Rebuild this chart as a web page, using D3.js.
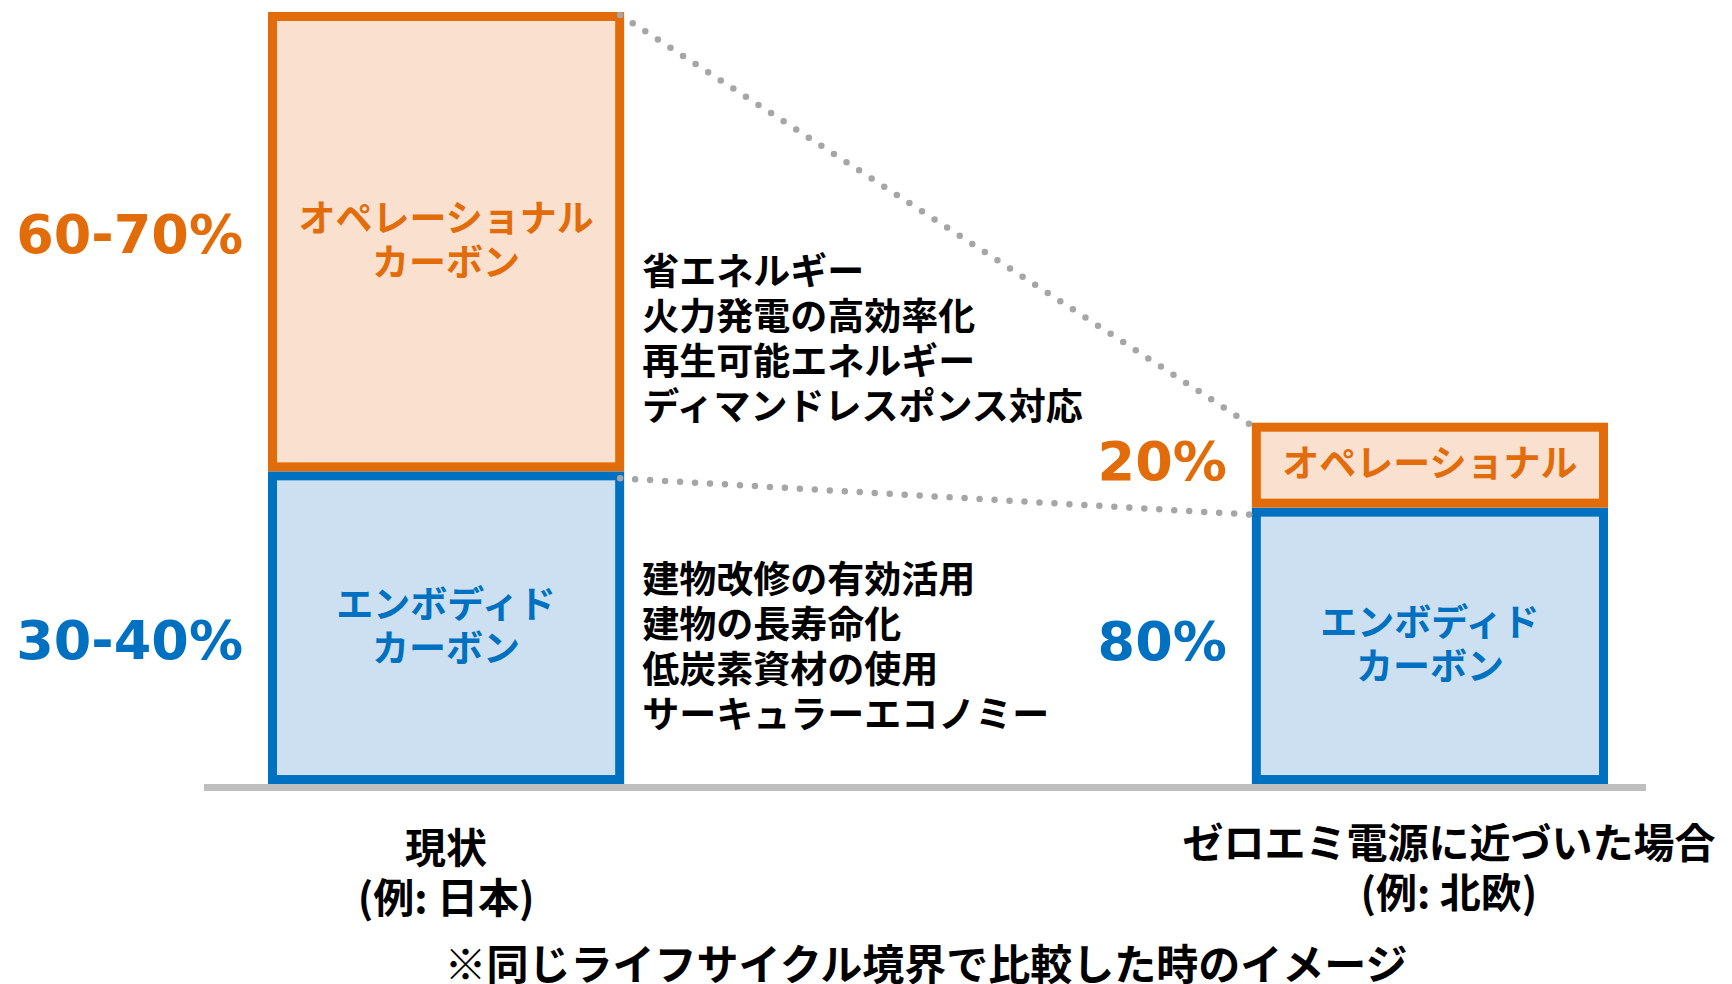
<!DOCTYPE html>
<html>
<head>
<meta charset="utf-8">
<script src="https://cdn.jsdelivr.net/npm/d3@7"></script>
<style>
  body { margin: 0; background: #fff; }
  svg { display: block; }
  text { font-family: "Noto Sans CJK JP", sans-serif; font-weight: 700; }
</style>
</head>
<body>
<svg id="chart"></svg>
<script>
// categories and sub labels
const categories = ["現状", "ゼロエミ電源に近づいた場合"];
const subLabels = ["(例: 日本)", "(例: 北欧)"];

// bar heights (share of the "current" total = 100)
const embodied = [40.5, 35.8];
const operational = [59.5, 11.0];

// labels shown next to / inside the bars
const embodiedPct = ["30-40%", "80%"];
const operationalPct = ["60-70%", "20%"];
const embodiedNames = [["エンボディド", "カーボン"], ["エンボディド", "カーボン"]];
const operationalNames = [["オペレーショナル", "カーボン"], ["オペレーショナル"]];

// measures listed between the bars
const operationalMeasures = ["省エネルギー", "火力発電の高効率化", "再生可能エネルギー", "ディマンドレスポンス対応"];
const embodiedMeasures = ["建物改修の有効活用", "建物の長寿命化", "低炭素資材の使用", "サーキュラーエコノミー"];

const footnote = "※同じライフサイクル境界で比較した時のイメージ";

const width = 1732, height = 984;
const orange = "#E36C0A", orangeFill = "#FAE0CE";
const blue = "#0070C0", blueFill = "#CCE0F2";
const sw = 9; // bar border width

const svg = d3.select("#chart").attr("width", width).attr("height", height);

const x = d3.scaleBand().domain(categories).range([268, 1608]).paddingInner(0.638).paddingOuter(0);
const y = d3.scaleLinear().domain([0, 100]).range([784, 12]);
const bw = x.bandwidth();

// multi-line text as one <text> with tspans, centred on cy
function multiline(g, lines, cx, cy, lh, anchor) {
  const t = g.append("text")
    .attr("text-anchor", anchor)
    .attr("dominant-baseline", "central");
  lines.forEach((s, k) => {
    t.append("tspan")
      .attr("x", cx)
      .attr("y", cy + (k - (lines.length - 1) / 2) * lh)
      .text(s);
  });
  return t;
}

// baseline
svg.append("line")
  .attr("x1", 204).attr("x2", 1646)
  .attr("y1", y(0) + 3.5).attr("y2", y(0) + 3.5)
  .attr("stroke", "#BFBFBF").attr("stroke-width", 7);

// stacked segments
const segs = [];
categories.forEach((c, i) => {
  segs.push({ cat: c, i, y0: 0, y1: embodied[i], stroke: blue, fill: blueFill, names: embodiedNames[i], pct: embodiedPct[i] });
  segs.push({ cat: c, i, y0: embodied[i], y1: embodied[i] + operational[i], stroke: orange, fill: orangeFill, names: operationalNames[i], pct: operationalPct[i] });
});

svg.selectAll("rect.seg")
  .data(segs)
  .enter()
  .append("rect")
  .attr("class", "seg")
  .attr("x", (d) => x(d.cat) + sw / 2)
  .attr("y", (d) => y(d.y1) + sw / 2)
  .attr("width", bw - sw)
  .attr("height", (d) => y(d.y0) - y(d.y1) - sw)
  .attr("fill", (d) => d.fill)
  .attr("stroke", (d) => d.stroke)
  .attr("stroke-width", sw);

// dotted connectors
const c0 = categories[0], c1 = categories[1];
const connectors = [
  { a: embodied[0] + operational[0], b: embodied[1] + operational[1], off: 3 },
  { a: embodied[0], b: embodied[1], off: 7 },
];
svg.selectAll("line.conn")
  .data(connectors)
  .enter()
  .append("line")
  .attr("class", "conn")
  .attr("x1", x(c0) + bw - 4).attr("y1", (d) => y(d.a) + d.off)
  .attr("x2", x(c1)).attr("y2", (d) => y(d.b) + d.off)
  .attr("stroke", "#A6A6A6")
  .attr("stroke-width", 6.5)
  .attr("stroke-linecap", "round")
  .attr("stroke-dasharray", "0 15");

// small nudges for the percentage labels, [embodied, operational] per bar
const pctDy = [[13, -7], [-4, -4]];

segs.forEach((d) => {
  const cy = (y(d.y0) + y(d.y1)) / 2;
  // names inside the segments
  multiline(svg, d.names, x(d.cat) + bw / 2, cy - 4, 44, "middle")
    .attr("font-size", 37)
    .attr("fill", d.stroke);
  // percentage to the left of the bar
  svg.append("text")
    .attr("x", x(d.cat) - 25)
    .attr("y", cy + pctDy[d.i][d.y0 === 0 ? 0 : 1])
    .attr("text-anchor", "end")
    .attr("dominant-baseline", "central")
    .style("font-family", "'DejaVu Sans', sans-serif")
    .attr("font-size", 54)
    .attr("fill", d.stroke)
    .text(d.pct);
});

// measures between the bars
const mx = x(c0) + bw + 18;
multiline(svg, operationalMeasures, mx, 336, 45, "start").attr("font-size", 37).attr("fill", "#000");
multiline(svg, embodiedMeasures, mx, 644, 45, "start").attr("font-size", 37).attr("fill", "#000");

// category labels
const labelShift = [[0, 0], [19, -5]];
categories.forEach((c, i) => {
  multiline(svg, [c, subLabels[i]], x(c) + bw / 2 + labelShift[i][0], 870 + labelShift[i][1], 50, "middle")
    .attr("font-size", 41)
    .attr("fill", "#000");
});

svg.append("text")
  .attr("x", 926).attr("y", 961)
  .attr("text-anchor", "middle").attr("dominant-baseline", "central")
  .attr("font-size", 42).attr("fill", "#000")
  .text(footnote);
</script>
</body>
</html>
